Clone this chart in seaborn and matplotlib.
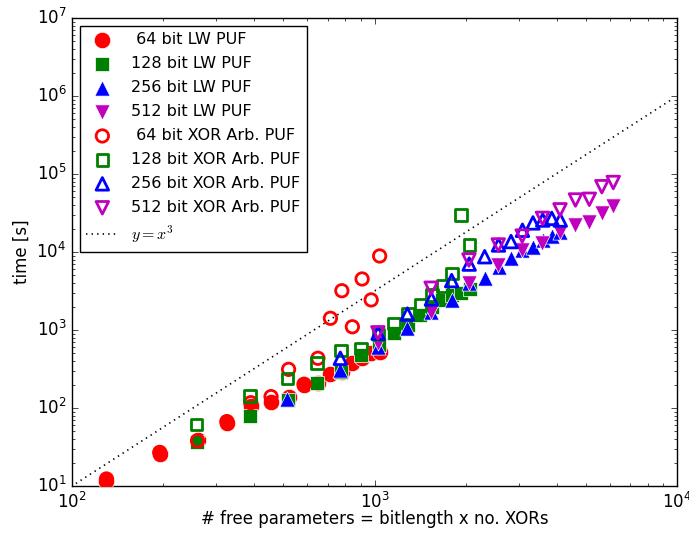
import numpy as np
import pandas as pd
import matplotlib
matplotlib.use("Agg")
import matplotlib.pyplot as plt
import seaborn as sns

plt.style.use("classic")
plt.rcParams["figure.facecolor"] = "white"
plt.rcParams["savefig.facecolor"] = "white"
plt.rcParams["font.family"] = ["DejaVu Sans"]

# ---------------- data ----------------
k64 = list(range(2, 17))
x64 = [65 * k for k in k64]
lw64 = [11.6, 25.5, 39, 65, 105, 120, 138, 197, 210, 273, 288, 374, 434, 500, 525]
xor64 = [12.3, 27, 38, 67, 117, 140, 313, 202, 434, 1413, 3190, 1100, 4510, 2430, 8890]

k128 = list(range(2, 17))
x128 = [129 * k for k in k128]
lw128 = [37, 79, 126, 207, 290, 480, 640, 910, 1160, 1550, 2000, 2430, 2800, 3000, 3400]
xor128 = [61.6, 143, 240, 380, 550, 580, 880, 1220, 1640, 2090, 2810, 3660, 5330, 29800, 12300]

k256_lw = list(range(2, 17))
x256_lw = [257 * k for k in k256_lw]
lw256 = [130, 307, 600, 1050, 1720, 2430, 4000, 4600, 6500, 8300, 10600, 11500, 14300, 16000, 18200]
k256_xor = list(range(3, 17))
x256_xor = [257 * k for k in k256_xor]
xor256 = [434, 910, 1600, 2500, 4300, 7000, 8700, 12300, 13600, 19000, 23600, 25700, 27000, 25700]

k512 = list(range(2, 13))
x512 = [513 * k for k in k512]
lw512 = [690, 1720, 4000, 6800, 10600, 13200, 18200, 22200, 24500, 31700, 38600]
xor512 = [920, 3430, 7900, 12300, 16000, 27000, 34700, 46400, 47400, 68700, 77800]

ref_x = np.array([103.0, 9600.0])
ref_y = 10 * (ref_x / 100.0) ** 2.5

series_lw = [
    (" 64 bit LW PUF", x64, lw64, "o", "#ff0000", 140),
    ("128 bit LW PUF", x128, lw128, "s", "#008000", 92),
    ("256 bit LW PUF", x256_lw, lw256, "^", "#0000ff", 120),
    ("512 bit LW PUF", x512, lw512, "v", "#bf00bf", 120),
]
series_xor = [
    (" 64 bit XOR Arb. PUF", x64, xor64, "o", "#ff0000", 80),
    ("128 bit XOR Arb. PUF", x128, xor128, "s", "#008000", 68),
    ("256 bit XOR Arb. PUF", x256_xor, xor256, "^", "#0000ff", 82),
    ("512 bit XOR Arb. PUF", x512, xor512, "v", "#bf00bf", 82),
]

fig = plt.figure(figsize=(6.89, 5.36), dpi=100)
ax = fig.add_axes([72 / 689, 50 / 536, 605 / 689, 468 / 536])

for label, xs, ys, m, c, s in series_lw:
    df = pd.DataFrame({"x": xs, "y": ys})
    sns.scatterplot(data=df, x="x", y="y", marker=m, s=s, color=c,
                    edgecolor="white", linewidth=0.5, label=label, ax=ax,
                    zorder=3)

for label, xs, ys, m, c, s in series_xor:
    df = pd.DataFrame({"x": xs, "y": ys})
    sns.scatterplot(data=df, x="x", y="y", marker=m, s=s,
                    facecolor="none", edgecolor=c, linewidth=2.0,
                    label=label, ax=ax, zorder=4)

sns.lineplot(x=ref_x, y=ref_y, color="black", linestyle=":", linewidth=1.2,
             label=r"$y=x^3$", ax=ax, zorder=2)

ax.set_xscale("log")
ax.set_yscale("log")
ax.set_xlim(100, 1e4)
ax.set_ylim(10, 1e7)
ax.set_xlabel("# free parameters = bitlength x no. XORs", fontsize=12, labelpad=-1)
ax.set_ylabel("time [s]", fontsize=12, labelpad=4)
ax.tick_params(labelsize=12)

leg = ax.legend(loc="upper left", scatterpoints=1, numpoints=1,
                fontsize=11.5, fancybox=False, borderaxespad=0.5,
                handlelength=2.0, handletextpad=0.8, labelspacing=0.56)
leg.get_frame().set_edgecolor("black")
leg.get_frame().set_linewidth(1.0)

fig.savefig("out.png", dpi=100)
